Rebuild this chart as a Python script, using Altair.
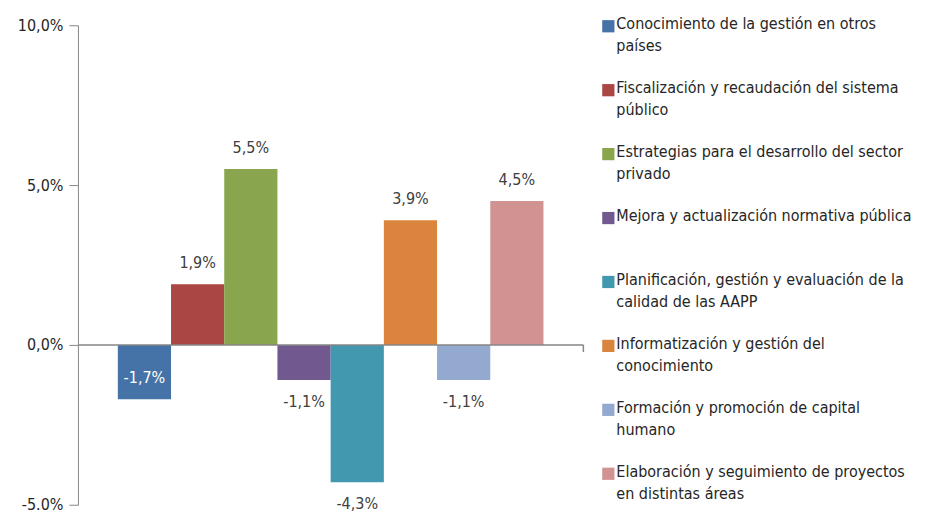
import altair as alt
import pandas as pd

series = [
    "Conocimiento de la gestión en otros\npaíses",
    "Fiscalización y recaudación del sistema\npúblico",
    "Estrategias para el desarrollo del sector\nprivado",
    "Mejora y actualización normativa pública\n ",
    "Planificación, gestión y evaluación de la\ncalidad de las AAPP",
    "Informatización y gestión del\nconocimiento",
    "Formación y promoción de capital\nhumano",
    "Elaboración y seguimiento de proyectos\nen distintas áreas",
]
values = [-1.7, 1.9, 5.5, -1.1, -4.3, 3.9, -1.1, 4.5]
labels = ["-1,7%", "1,9%", "5,5%", "-1,1%", "-4,3%", "3,9%", "-1,1%", "4,5%"]
colors = ["#4572A7", "#AA4643", "#89A54E", "#71588F", "#4198AF", "#DB843D", "#93A9CF", "#D19392"]
y_ticks = [-5, 0, 5, 10]

df = pd.DataFrame({"series": series, "value": values, "label": labels})

FONT = "DejaVu Sans Condensed"
W, H = 506, 480

color_scale = alt.Scale(domain=series, range=colors)
x_enc = alt.X("series:N", sort=series, axis=None,
              scale=alt.Scale(paddingInner=0, paddingOuter=0.75))
y_scale = alt.Scale(domain=[-5, 10], nice=False, zero=False)

label_expr = ("datum.value == -5 ? '-5.0%' : "
              "replace(format(datum.value, '.1f'), '.', ',') + '%'")

base = alt.Chart(df)

bars = base.mark_bar().encode(
    x=x_enc,
    y=alt.Y("value:Q", scale=y_scale,
            axis=alt.Axis(values=y_ticks, labelExpr=label_expr, title=None, grid=False,
                          domainColor="#868686", tickColor="#868686", tickSize=9,
                          labelFontSize=16, labelFont=FONT, labelColor="#262626",
                          labelPadding=6, minExtent=65, maxExtent=65)),
    color=alt.Color("series:N", scale=color_scale, legend=None),
)

first = series[0]
text_up = base.transform_filter(
    f"datum.value > 0 || datum.series == {first!r}".replace("\n", "\\n")
).mark_text(dy=-21, fontSize=16, font=FONT, baseline="middle").encode(
    x=x_enc,
    y=alt.Y("value:Q", scale=y_scale),
    text="label:N",
    color=alt.condition(alt.datum.value < 0, alt.value("#FFFFFF"), alt.value("#404040")),
)

text_down = base.transform_filter(
    f"datum.value < 0 && datum.series != {first!r}".replace("\n", "\\n")
).mark_text(dy=22, fontSize=16, font=FONT, baseline="middle", color="#404040").encode(
    x=x_enc,
    y=alt.Y("value:Q", scale=y_scale),
    text="label:N",
)

zero_rule = alt.Chart(pd.DataFrame({"v": [0]})).mark_rule(color="#868686", strokeWidth=1.5).encode(
    y=alt.Y("v:Q", scale=y_scale), x=alt.value(0), x2=alt.value(W)
)
end_tick = alt.Chart(pd.DataFrame({"v": [0], "v2": [-0.22]})).mark_rule(color="#868686", strokeWidth=1.5).encode(
    y=alt.Y("v:Q", scale=y_scale), y2="v2:Q", x=alt.value(W)
)

main = alt.layer(bars, zero_rule, end_tick, text_up, text_down)

leg_y = alt.Y("series:N", sort=series, axis=None,
              scale=alt.Scale(type="point", range=[1, 449], padding=0))
leg_sym = base.mark_square(size=150, opacity=1).encode(
    x=alt.value(531), y=leg_y,
    color=alt.Color("series:N", scale=color_scale, legend=None),
)
leg_txt = base.mark_text(align="left", baseline="top", dy=-10, fontSize=16, font=FONT,
                         lineBreak="\n", lineHeight=22, color="#262626").encode(
    x=alt.value(539), y=leg_y, text="series:N"
)
legend = alt.layer(leg_sym, leg_txt)

chart = alt.layer(main, legend).resolve_scale(y="independent").properties(
    width=W, height=H,
    padding={"left": 5, "top": 8, "right": 5, "bottom": 0},
).configure(background="white").configure_view(stroke=None)

chart.save("out.html", embed_options={"renderer": "svg", "actions": False})
